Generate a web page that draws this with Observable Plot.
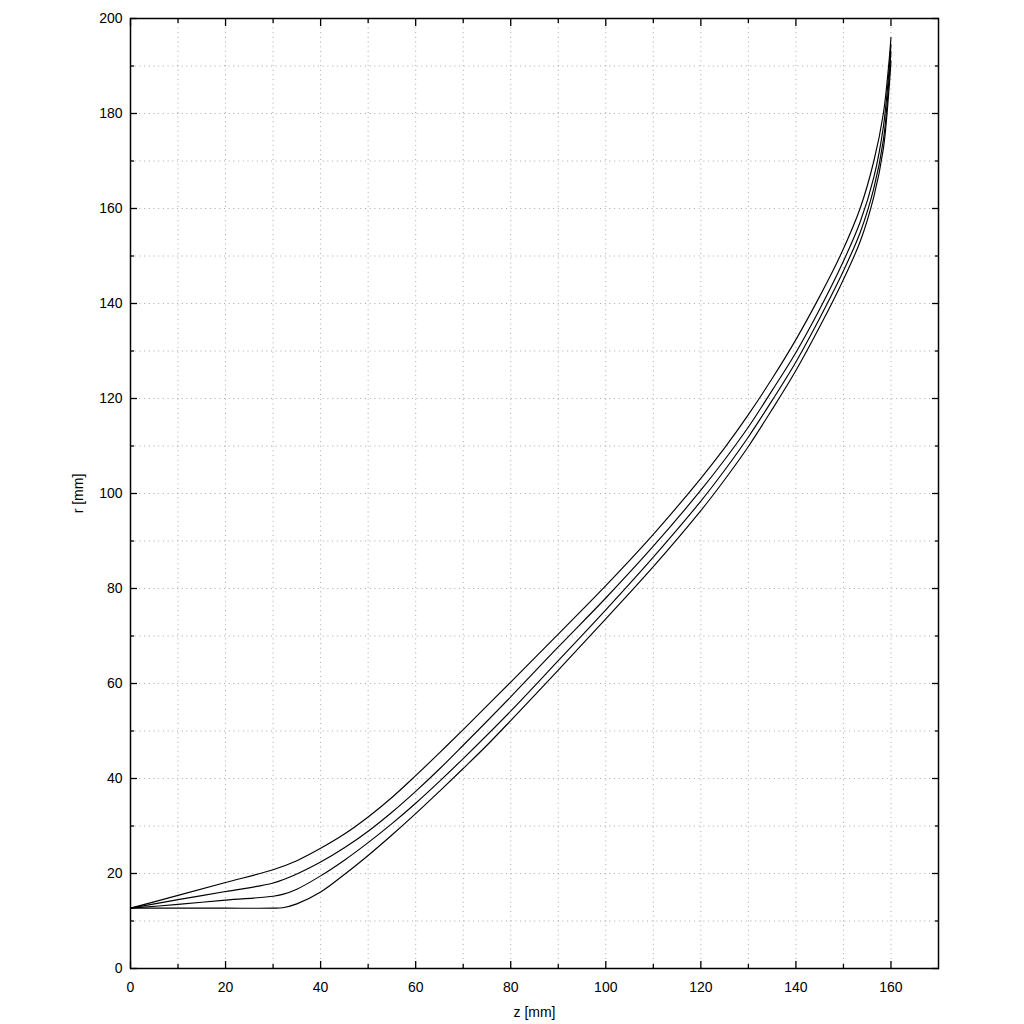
<!DOCTYPE html>
<html>
<head>
<meta charset="utf-8">
<script src="https://cdn.jsdelivr.net/npm/d3@7"></script>
<script src="https://cdn.jsdelivr.net/npm/@observablehq/plot@0.6"></script>
<style>
  html, body { margin: 0; padding: 0; background: white; }
</style>
</head>
<body>
<div id="chart"></div>
<script>
// ---- data (z [mm], r [mm]) ----
const curveNames = ["A", "B", "C", "D"];

const zA = [0, 10, 20, 30, 35, 40, 45, 50, 55, 60, 65, 70, 80, 90, 100, 110, 120, 125, 130, 135, 140, 145, 149.3, 153.5, 156.4, 158.4, 159.5, 160];
const rA = [12.7, 15.4, 18.1, 20.8, 22.7, 25.3, 28.3, 31.9, 36.0, 40.6, 45.4, 50.3, 60.3, 70.4, 80.6, 91.4, 103.2, 109.6, 116.6, 124.2, 132.4, 141.5, 150, 160, 170, 180, 190, 196];

const zB = [0, 10, 20, 30, 35, 40, 45, 50, 55, 60, 65, 70, 80, 90, 100, 110, 120, 125, 130, 135, 140, 145, 149.3, 153.5, 156.4, 158.4, 159.5, 160];
const rB = [12.7, 14.5, 16.2, 18.0, 19.9, 22.4, 25.4, 28.9, 32.9, 37.3, 42.0, 47.0, 57.2, 67.7, 78.0, 88.9, 100.7, 107.1, 114.0, 121.7, 129.7, 138.8, 147.4, 157.1, 166.6, 177.2, 188.0, 194.5];

const zC = [0, 10, 20, 30, 32, 35, 40, 45, 50, 55, 60, 65, 70, 80, 90, 100, 110, 120, 125, 130, 135, 140, 145, 149.3, 153.5, 156.4, 158.4, 159.5, 160];
const rC = [12.7, 13.5, 14.4, 15.2, 15.6, 16.7, 19.5, 22.8, 26.5, 30.5, 34.8, 39.4, 44.2, 54.2, 64.8, 75.5, 86.6, 98.4, 104.9, 111.9, 119.6, 127.7, 136.9, 145.4, 154.9, 164.3, 174.4, 186, 193];

const zD = [0, 10, 20, 30, 32, 35, 40, 45, 50, 55, 60, 65, 70, 75, 80, 90, 100, 110, 120, 125, 130, 135, 140, 145, 149.3, 153.5, 156.4, 158.4, 159.5, 160];
const rD = [12.7, 12.7, 12.7, 12.7, 12.8, 13.6, 16.1, 19.8, 23.8, 28.1, 32.6, 37.3, 42.1, 47.0, 52.2, 62.8, 73.6, 84.6, 96.4, 102.9, 109.9, 117.7, 125.9, 135.1, 143.6, 153.0, 162.5, 172.6, 184, 191];

const xMajorTicks = [0, 20, 40, 60, 80, 100, 120, 140, 160];
const xMinorTicks = [10, 30, 50, 70, 90, 110, 130, 150];
const yMajorTicks = [0, 20, 40, 60, 80, 100, 120, 140, 160, 180, 200];
const yMinorTicks = [10, 30, 50, 70, 90, 110, 130, 150, 170, 190];
const xGrid = [10, 20, 30, 40, 50, 60, 70, 80, 90, 100, 110, 120, 130, 140, 150, 160];
const yGrid = [10, 20, 30, 40, 50, 60, 70, 80, 90, 100, 110, 120, 130, 140, 150, 160, 170, 180, 190];

const xLabel = "z [mm]";
const yLabel = "r [mm]";

// ---- build table ----
const series = { A: [zA, rA], B: [zB, rB], C: [zC, rC], D: [zD, rD] };
const rows = [];
for (const name of curveNames) {
  const [zs, rs] = series[name];
  zs.forEach((z, i) => rows.push({ curve: name, z, r: rs[i] }));
}

const font = "'Liberation Sans', Arial, Helvetica, sans-serif";
const gridStyle = { stroke: "#a8a8a8", strokeOpacity: 1, strokeWidth: 1, strokeDasharray: "1,3.7" };

const chart = Plot.plot({
  width: 1024,
  height: 1024,
  marginLeft: 130,
  marginRight: 86,
  marginTop: 18,
  marginBottom: 56,
  x: { domain: [0, 170], label: null },
  y: { domain: [0, 200], label: null },
  style: { fontFamily: font, fontSize: "14px", color: "black", background: "white", overflow: "visible" },
  marks: [
    Plot.gridX(xGrid, gridStyle),
    Plot.gridY(yGrid, gridStyle),
    // bottom axis: major ticks + labels
    Plot.axisX(xMajorTicks, { anchor: "bottom", tickSize: -7, tickPadding: 21, strokeWidth: 1.3, fontSize: 14,
      label: xLabel, labelAnchor: "center", labelArrow: "none", labelOffset: 48 }),
    Plot.axisX(xMinorTicks, { anchor: "bottom", tickSize: -4, tickFormat: () => "", label: null, strokeWidth: 1.3 }),
    // top axis (mirror ticks)
    Plot.axisX(xMajorTicks, { anchor: "top", tickSize: -7, tickFormat: () => "", label: null, strokeWidth: 1.3 }),
    Plot.axisX(xMinorTicks, { anchor: "top", tickSize: -4, tickFormat: () => "", label: null, strokeWidth: 1.3 }),
    // left axis
    Plot.axisY(yMajorTicks, { anchor: "left", tickSize: -7, tickPadding: 15, strokeWidth: 1.3, fontSize: 14,
      label: yLabel, labelAnchor: "center", labelArrow: "none", labelOffset: 57 }),
    Plot.axisY(yMinorTicks, { anchor: "left", tickSize: -4, tickFormat: () => "", label: null, strokeWidth: 1.3 }),
    // right axis (mirror ticks)
    Plot.axisY(yMajorTicks, { anchor: "right", tickSize: -7, tickFormat: () => "", label: null, strokeWidth: 1.3 }),
    Plot.axisY(yMinorTicks, { anchor: "right", tickSize: -4, tickFormat: () => "", label: null, strokeWidth: 1.3 }),
    Plot.line(rows, { x: "z", y: "r", z: "curve", stroke: "black", strokeWidth: 1.15, curve: "catmull-rom" }),
    Plot.frame({ stroke: "black", strokeWidth: 1.5 })
  ]
});

document.getElementById("chart").appendChild(chart);
</script>
</body>
</html>
